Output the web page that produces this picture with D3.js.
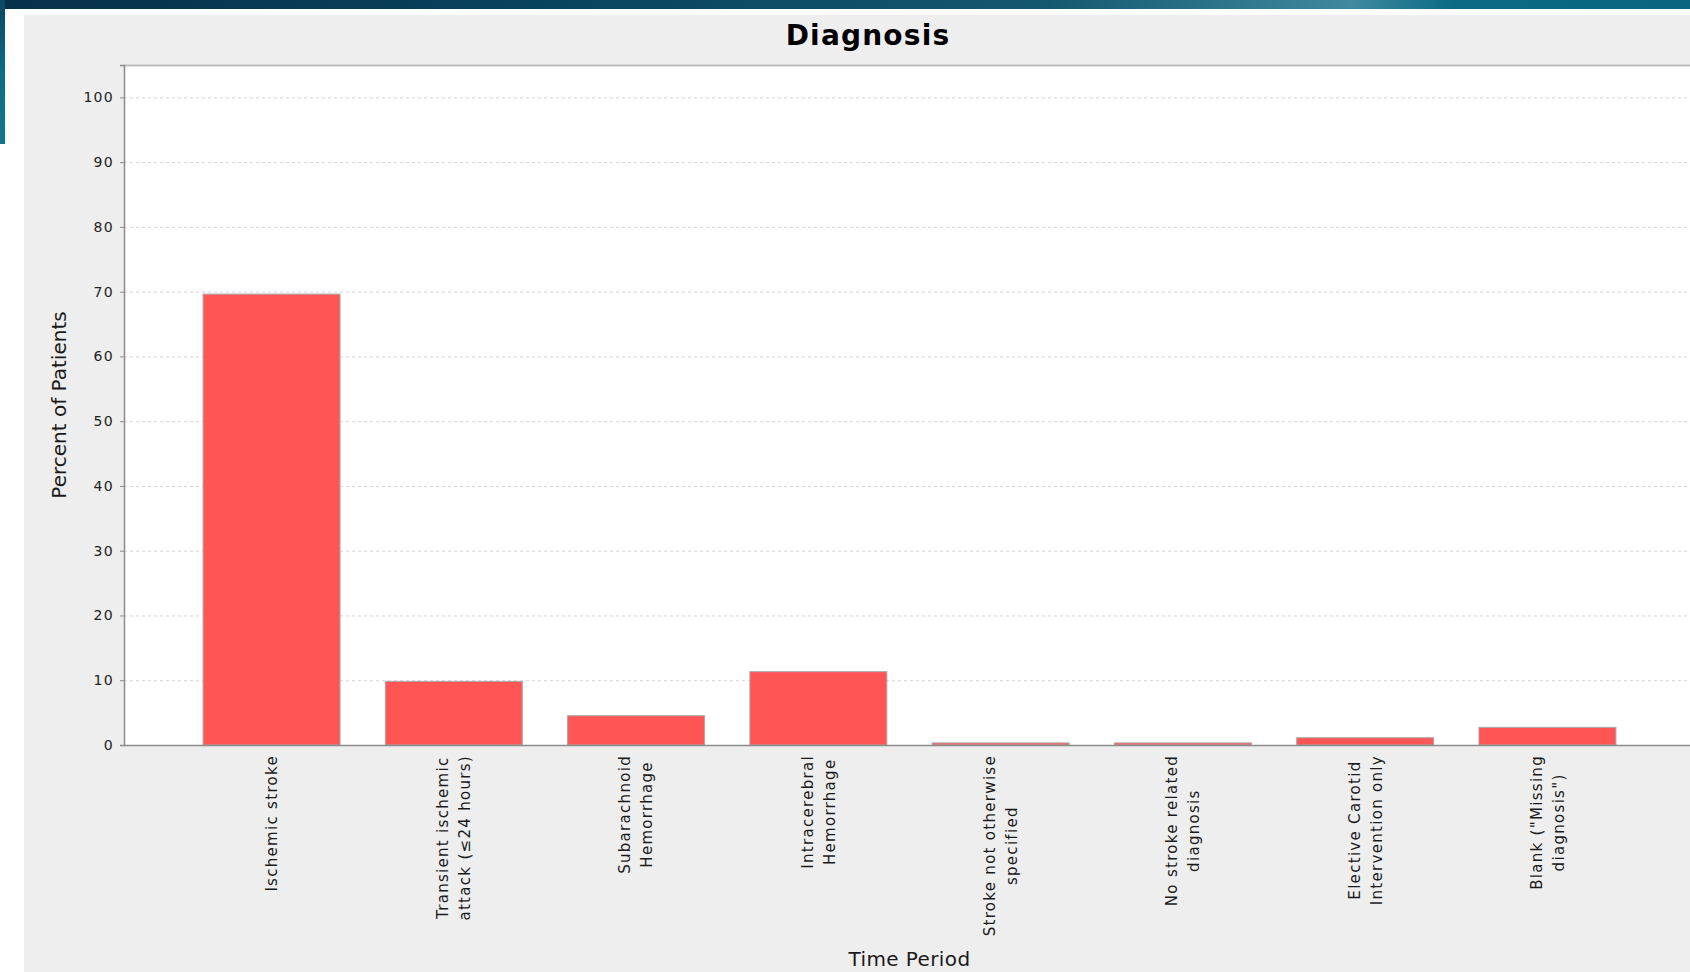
<!DOCTYPE html>
<html>
<head>
<meta charset="utf-8">
<script src="https://cdn.jsdelivr.net/npm/d3@7"></script>
<style>
  html, body { margin: 0; padding: 0; background: #ffffff; overflow: hidden; }
  svg { display: block; }
  text { font-family: "DejaVu Sans", "Liberation Sans", sans-serif; }
</style>
</head>
<body>
<svg id="chart" width="1690" height="972"></svg>
<script>
// ---- data ----
const categories = [
  ["Ischemic stroke"],
  ["Transient ischemic", "attack (\u226424 hours)"],
  ["Subarachnoid", "Hemorrhage"],
  ["Intracerebral", "Hemorrhage"],
  ["Stroke not otherwise", "specified"],
  ["No stroke related", "diagnosis"],
  ["Elective Carotid", "Intervention only"],
  ["Blank (\"Missing", "diagnosis\")"]
];
const percentValues = [69.7, 9.9, 4.6, 11.4, 0.4, 0.4, 1.2, 2.8];
const yTicks = [0, 10, 20, 30, 40, 50, 60, 70, 80, 90, 100];
const chartTitle = "Diagnosis";
const xAxisTitle = "Time Period";
const yAxisTitle = "Percent of Patients";

// ---- layout ----
const svg = d3.select("#chart");
const W = 1690, H = 972;
const plot = { left: 124, top: 65, right: 1695, bottom: 745 };

const defs = svg.append("defs");
const bannerGrad = defs.append("linearGradient").attr("id", "banner").attr("x1", 0).attr("x2", 1).attr("y1", 0).attr("y2", 0);
[[0, "#06304a"], [0.35, "#0a4460"], [0.62, "#14586f"], [0.8, "#3f8aa0"], [0.86, "#0b6a84"], [1, "#0a6580"]]
  .forEach(([o, c]) => bannerGrad.append("stop").attr("offset", o).attr("stop-color", c));
const sideGrad = defs.append("linearGradient").attr("id", "side").attr("x1", 0).attr("x2", 0).attr("y1", 0).attr("y2", 1);
[[0, "#0a4660"], [0.5, "#0d6b85"], [1, "#127590"]]
  .forEach(([o, c]) => sideGrad.append("stop").attr("offset", o).attr("stop-color", c));

// page decoration
svg.append("rect").attr("x", 0).attr("y", 0).attr("width", W).attr("height", 9).attr("fill", "url(#banner)");
svg.append("rect").attr("x", 0).attr("y", 0).attr("width", 5).attr("height", 144).attr("fill", "url(#side)");

// chart panel
svg.append("rect").attr("x", 24).attr("y", 15).attr("width", W - 24).attr("height", H - 15).attr("fill", "#eeeeee");

// plot background
svg.append("rect").attr("x", plot.left).attr("y", plot.top)
  .attr("width", plot.right - plot.left).attr("height", plot.bottom - plot.top)
  .attr("fill", "#ffffff");

// scales
const x = d3.scaleBand()
  .domain(d3.range(categories.length))
  .range([plot.left, plot.right])
  .paddingInner(0.243)
  .paddingOuter(0.431);
const y = d3.scaleLinear().domain([0, 105]).range([plot.bottom, plot.top]);

// gridlines
svg.append("g").selectAll("line").data(yTicks.filter(d => d > 0)).join("line")
  .attr("x1", plot.left).attr("x2", plot.right)
  .attr("y1", d => y(d) + 0.5).attr("y2", d => y(d) + 0.5)
  .attr("stroke", "#d4d4d4").attr("stroke-width", 1)
  .attr("stroke-dasharray", "3,3");

// bars
svg.append("g").selectAll("rect").data(percentValues).join("rect")
  .attr("x", (d, i) => x(i) + 0.5)
  .attr("y", d => y(d) + 0.5)
  .attr("width", x.bandwidth() - 1)
  .attr("height", d => Math.max(0, y(0) - y(d) - 0.5))
  .attr("fill", "#ff5555")
  .attr("stroke", "#a9a9a9")
  .attr("stroke-width", 1);

// plot outline (top) and axes
svg.append("line").attr("x1", plot.left).attr("x2", plot.right)
  .attr("y1", plot.top + 0.5).attr("y2", plot.top + 0.5)
  .attr("stroke", "#bdbdbd").attr("stroke-width", 2);

const yAxis = d3.axisLeft(y).tickValues(yTicks).tickSize(4).tickPadding(6).tickFormat(d3.format("d"));
const yG = svg.append("g").attr("transform", `translate(${plot.left},0)`).call(yAxis);
yG.select(".domain").attr("stroke", "#8c8c8c").attr("stroke-width", 1.5);
yG.selectAll(".tick line").attr("stroke", "#8c8c8c");
yG.selectAll(".tick text")
  .attr("fill", "#222")
  .style("font-size", "14px")
  .style("letter-spacing", "1.3px")
  .attr("font-family", "DejaVu Sans");

const xAxis = d3.axisBottom(x).tickSize(0).tickFormat("");
const xG = svg.append("g").attr("transform", `translate(0,${plot.bottom})`).call(xAxis);
xG.select(".domain").attr("stroke", "#8c8c8c").attr("stroke-width", 1.5);

// category labels (rotated, multi-line, centered block)
const lineGap = 22;
const labelTop = 755;
categories.forEach((lines, i) => {
  const cx = x(i) + x.bandwidth() / 2;
  const g = svg.append("g").attr("transform", `translate(${cx},${labelTop}) rotate(-90)`);
  const texts = lines.map((ln, j) => g.append("text")
    .attr("text-anchor", "middle")
    .attr("y", (j - (lines.length - 1) / 2) * lineGap)
    .attr("dy", "0.36em")
    .style("font-size", "15px")
    .style("letter-spacing", "1.3px")
    .attr("fill", "#1a1a1a")
    .text(ln));
  const maxW = d3.max(texts, t => t.node().getComputedTextLength());
  texts.forEach(t => t.attr("x", -maxW / 2));
});

// titles
svg.append("text").attr("x", 868).attr("y", 45)
  .attr("text-anchor", "middle")
  .style("font-size", "28px").style("font-weight", "bold").style("letter-spacing", "1.2px")
  .attr("fill", "#000").text(chartTitle);

svg.append("text").attr("x", (plot.left + plot.right) / 2).attr("y", 966)
  .attr("text-anchor", "middle")
  .style("font-size", "20px").style("letter-spacing", "0.4px")
  .attr("fill", "#1a1a1a").text(xAxisTitle);

svg.append("text")
  .attr("transform", `translate(66,${(plot.top + plot.bottom) / 2}) rotate(-90)`)
  .attr("text-anchor", "middle")
  .style("font-size", "20px")
  .attr("fill", "#1a1a1a").text(yAxisTitle);
</script>
</body>
</html>
